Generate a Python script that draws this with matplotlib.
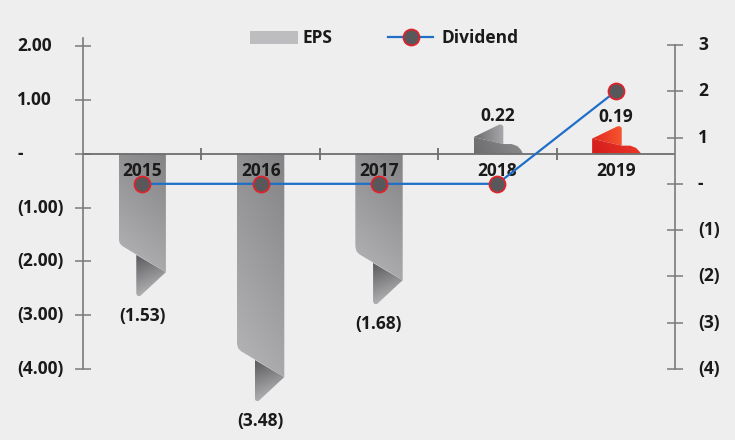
import numpy as np
import matplotlib
matplotlib.use("Agg")
import matplotlib.pyplot as plt
from matplotlib.patches import Polygon, Rectangle
from matplotlib.lines import Line2D
import matplotlib.colors as mcolors
import matplotlib.transforms as mtransforms

# Данные
years = ["2015", "2016", "2017", "2018", "2019"]
eps = [-1.53, -3.48, -1.68, 0.22, 0.19]
eps_labels = ["(1.53)", "(3.48)", "(1.68)", "0.22", "0.19"]
dividend = [0, 0, 0, 0, 2]

left_ticks = [-4, -3, -2, -1, 0, 1, 2]
left_ticklabels = ["(4.00)", "(3.00)", "(2.00)", "(1.00)", "-", "1.00", "2.00"]
right_ticks = [-4, -3, -2, -1, 0, 1, 2, 3]
right_ticklabels = ["(4)", "(3)", "(2)", "(1)", "-", "1", "2", "3"]

BG = "#eeeeee"
TXT = "#1a1a1a"
AXC = "#7a7a7a"
FONT = ["Open Sans", "DejaVu Sans"]
FS = 12.5
FW = "bold"

plt.rcParams["font.family"] = FONT

W, H = 735, 440
fig = plt.figure(figsize=(W / 100, H / 100), dpi=100, facecolor=BG)
ax = fig.add_axes([83 / W, (H - 369) / H, (675 - 83) / W, (369 - 38) / H])
ax.set_facecolor(BG)
ax.set_xlim(-0.5, 4.5)
ax.set_ylim(-4, 2.15)


def grad_fill(ax, verts, c0, c1, direction=(0, -1), zorder=2):
    """Полигон с линейным градиентом от c0 к c1 вдоль direction."""
    verts = np.asarray(verts)
    x0, y0 = verts.min(axis=0)
    x1, y1 = verts.max(axis=0)
    n = 60
    gx, gy = np.meshgrid(np.linspace(0, 1, n), np.linspace(1, 0, n))
    dx, dy = direction
    t = gx * dx + gy * dy
    t = (t - t.min()) / (t.max() - t.min() + 1e-9)
    a = np.array(mcolors.to_rgb(c0))
    b = np.array(mcolors.to_rgb(c1))
    img = a[None, None, :] * (1 - t[..., None]) + b[None, None, :] * t[..., None]
    im = ax.imshow(img, extent=[x0, x1, y0, y1], aspect="auto",
                   interpolation="bilinear", zorder=zorder)
    poly = Polygon(verts, closed=True, facecolor="none", edgecolor="none",
                   clip_on=False)
    ax.add_patch(poly)
    im.set_clip_box(fig.bbox)
    im.set_clip_path(poly)


def neg_ribbon(ax, c, v):
    # лента вниз с загибом на конце
    hw = 0.2
    body = [(c - hw, 0), (c + hw, 0), (c + hw, v - 0.67),
            (c - hw + 0.035, v - 0.19), (c - hw + 0.012, v - 0.14),
            (c - hw + 0.002, v - 0.07), (c - hw, v)]
    tail = [(c - 0.05, v - 0.35), (c + hw, v - 0.67),
            (c - 0.02, v - 1.12), (c - 0.04, v - 1.11), (c - 0.05, v - 1.07)]
    grad_fill(ax, tail, "#58585b", "#c6c6c8", direction=(0.3, -1), zorder=2)
    grad_fill(ax, body, "#838386", "#b6b6b9", direction=(-0.35, -1), zorder=3)


def pos_ribbon(ax, c, v, body_c, tail_c):
    # короткая лента вверх, загнутая вправо
    body = [(c - 0.2, 0), (c - 0.2, v + 0.09), (c + 0.05, v - 0.04),
            (c + 0.12, v - 0.04), (c + 0.17, v - 0.08), (c + 0.2, v - 0.15),
            (c + 0.215, 0)]
    tail = [(c - 0.2, v + 0.09), (c + 0.015, v + 0.32), (c + 0.035, v + 0.32),
            (c + 0.05, v + 0.29), (c + 0.05, v - 0.04)]
    grad_fill(ax, tail, tail_c[0], tail_c[1], direction=(1, 0), zorder=3)
    grad_fill(ax, body, body_c[0], body_c[1], direction=(1, 0.2), zorder=3)


x = np.arange(len(years))
for i, v in enumerate(eps):
    if v < 0:
        neg_ribbon(ax, x[i], v)
        ax.annotate(eps_labels[i], (x[i], v - 1.12), xytext=(0, -11),
                    textcoords="offset pixels", ha="center", va="top",
                    fontsize=FS, fontweight=FW, color=TXT, zorder=6,
                    annotation_clip=False)
    else:
        if i == len(eps) - 1:
            pos_ribbon(ax, x[i], v, ("#d41c1c", "#ec3a2a"), ("#e32a1e", "#f5552f"))
        else:
            pos_ribbon(ax, x[i], v, ("#6c6c6f", "#8e8e91"), ("#6a6a6d", "#a9a9ab"))
        ax.annotate(eps_labels[i], (x[i], v + 0.32), xytext=(0, 4),
                    textcoords="offset pixels", ha="center", va="baseline",
                    fontsize=FS, fontweight=FW, color=TXT, zorder=6,
                    annotation_clip=False)

ax.set_xlim(-0.5, 4.5)
ax.set_ylim(-4, 2.15)

# нулевая линия с засечками между годами
ax.axhline(0, color="#6e6e6e", lw=1.3, zorder=4)
for b in x[:-1] + 0.5:
    ax.plot([b, b], [-0.12, 0.11], color="#6e6e6e", lw=1.3, zorder=4,
            solid_capstyle="butt")

# подписи годов под нулевой линией
for i, yr in enumerate(years):
    ax.annotate(yr, (x[i], 0), xytext=(0, -17), textcoords="offset pixels",
                ha="center", va="center", fontsize=FS, fontweight=FW,
                color=TXT, zorder=6)

# левая ось
for s in ["top", "right", "bottom"]:
    ax.spines[s].set_visible(False)
ax.spines["left"].set_color(AXC)
ax.spines["left"].set_linewidth(1.2)
ax.set_xticks([])
ax.set_yticks(left_ticks)
ax.set_yticklabels([])
ax.tick_params(axis="y", direction="inout", length=11, width=1.1, color=AXC)
ltr = mtransforms.blended_transform_factory(fig.transFigure, ax.transData)
for t, lab in zip(left_ticks, left_ticklabels):
    fig.text(17 / W, t, lab, transform=ltr, ha="left", va="center",
             fontsize=FS, fontweight=FW, color=TXT)

# правая ось — дивиденды
ax2 = ax.twinx()
ax2.set_ylim(-4, 3.15)
for s in ["top", "left", "bottom"]:
    ax2.spines[s].set_visible(False)
ax2.spines["right"].set_color(AXC)
ax2.spines["right"].set_linewidth(1.2)
ax2.spines["right"].set_bounds(-4, 3)
ax2.set_yticks(right_ticks)
ax2.set_yticklabels([])
ax2.tick_params(axis="y", direction="inout", length=11, width=1.1, color=AXC)
rtr = mtransforms.blended_transform_factory(fig.transFigure, ax2.transData)
for t, lab in zip(right_ticks, right_ticklabels):
    fig.text(698 / W, t, lab, transform=rtr, ha="left", va="center",
             fontsize=FS, fontweight=FW, color=TXT)

ax2.plot(x, dividend, color="#1f6fc8", lw=1.6, marker="o", markersize=11.5,
         markerfacecolor="#58585b", markeredgecolor="#e0222c",
         markeredgewidth=1.3, zorder=7)
ax2.set_zorder(ax.get_zorder() + 1)
ax2.patch.set_visible(False)

# легенда
fig.patches.append(Rectangle((250 / W, (H - 44) / H), 48 / W, 13 / H,
                             transform=fig.transFigure, facecolor="#bdbdbf",
                             edgecolor="none"))
fig.text(302 / W, (H - 38) / H, "EPS", ha="left", va="center",
         fontsize=FS, fontweight=FW, color=TXT)
fig.lines.append(Line2D([388 / W, 433 / W], [(H - 37) / H] * 2,
                        transform=fig.transFigure, color="#1f6fc8", lw=1.6))
fig.lines.append(Line2D([411 / W], [(H - 37) / H], transform=fig.transFigure,
                        marker="o", markersize=11.5, markerfacecolor="#58585b",
                        markeredgecolor="#e0222c", markeredgewidth=1.3))
fig.text(442 / W, (H - 38) / H, "Dividend", ha="left", va="center",
         fontsize=FS, fontweight=FW, color=TXT)

fig.savefig("out.png", dpi=100, facecolor=BG)
